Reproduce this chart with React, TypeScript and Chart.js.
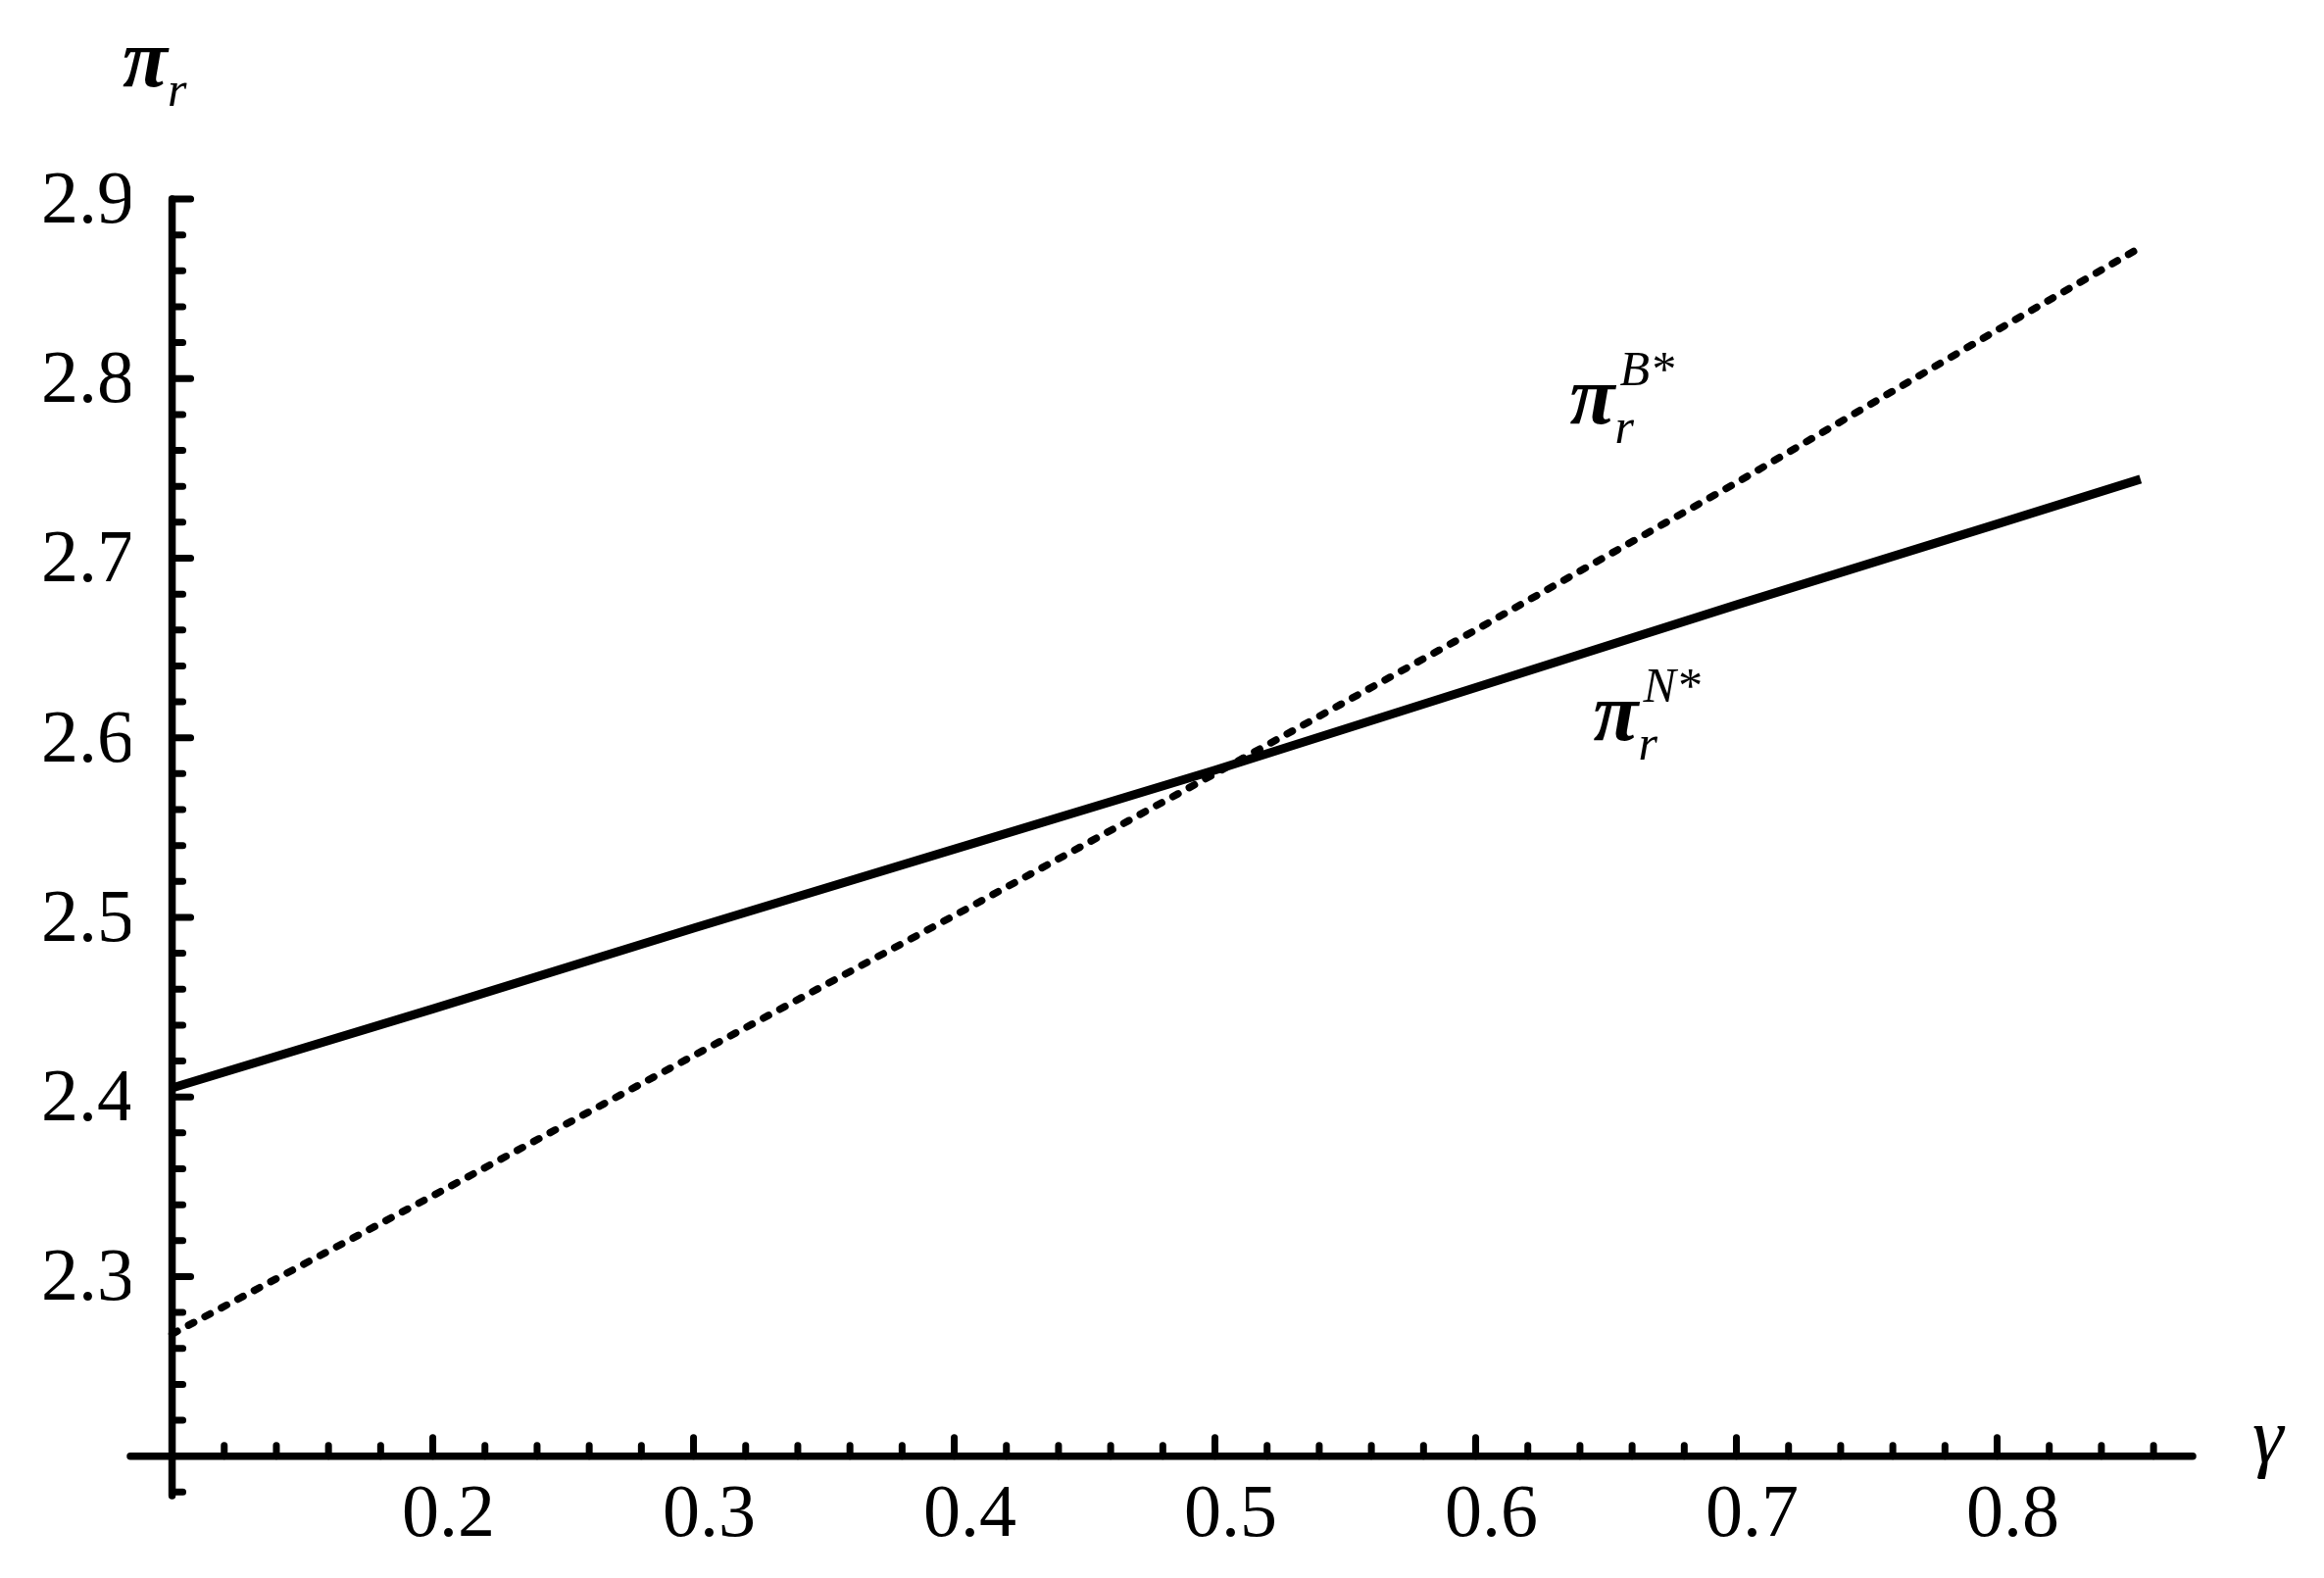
import { useEffect, useRef } from "react";
import { Chart, registerables } from "chart.js";

Chart.register(...registerables);

// gamma values sampled along the curves
const gammaValues = [0.1, 0.2, 0.3, 0.4, 0.5, 0.6, 0.7, 0.8, 0.855];
// pi_r^{N*} (solid)
const profitN = [2.405, 2.449, 2.494, 2.538, 2.582, 2.628, 2.674, 2.719, 2.744];
// pi_r^{B*} (dotted)
const profitB = [2.268, 2.345, 2.423, 2.501, 2.58, 2.66, 2.742, 2.827, 2.873];

const xTickLabels = ["0.2", "0.3", "0.4", "0.5", "0.6", "0.7", "0.8"];
const yTickLabels = ["2.3", "2.4", "2.5", "2.6", "2.7", "2.8", "2.9"];

const SERIF = '"Liberation Serif", "Times New Roman", serif';

function drawPiLabel(
  ctx: CanvasRenderingContext2D,
  left: number,
  baseline: number,
  sup: string | null
) {
  ctx.fillStyle = "#000";
  ctx.textAlign = "left";
  ctx.textBaseline = "alphabetic";
  ctx.font = `italic bold 84px ${SERIF}`;
  ctx.fillText("π", left, baseline);
  ctx.font = `italic 50px ${SERIF}`;
  ctx.fillText("r", left + 46, baseline + 20);
  if (sup) {
    ctx.fillText(sup, left + 51, baseline - 39);
  }
}

const axesPlugin = {
  id: "mathAxes",
  beforeDatasetsDraw(chart: any) {
    const ctx: CanvasRenderingContext2D = chart.ctx;
    const xs = chart.scales.x;
    const ys = chart.scales.y;
    const axisX = xs.getPixelForValue(0.1);
    const axisY = ys.getPixelForValue(2.2);
    ctx.save();
    ctx.strokeStyle = "#000";
    ctx.lineCap = "round";
    // axis lines
    ctx.lineWidth = 7.5;
    ctx.beginPath();
    ctx.moveTo(xs.getPixelForValue(xs.min), axisY);
    ctx.lineTo(xs.getPixelForValue(xs.max), axisY);
    ctx.moveTo(axisX, ys.getPixelForValue(ys.max));
    ctx.lineTo(axisX, ys.getPixelForValue(ys.min));
    ctx.stroke();
    // tick marks (inward)
    ctx.lineWidth = 7;
    ctx.beginPath();
    for (let i = 6; i <= 43; i++) {
      const v = i * 0.02;
      const major = i % 5 === 0;
      const px = xs.getPixelForValue(v);
      ctx.moveTo(px, axisY);
      ctx.lineTo(px, axisY - (major ? 19 : 11));
    }
    for (let i = 109; i <= 145; i++) {
      if (i === 110) continue;
      const v = i * 0.02;
      const major = i % 5 === 0;
      const py = ys.getPixelForValue(v);
      ctx.moveTo(axisX, py);
      ctx.lineTo(axisX + (major ? 19 : 11), py);
    }
    ctx.stroke();
    ctx.restore();
  },
  afterDraw(chart: any) {
    const ctx: CanvasRenderingContext2D = chart.ctx;
    const xs = chart.scales.x;
    const ys = chart.scales.y;
    ctx.save();
    // axis titles
    drawPiLabel(ctx, 125, 88, null);
    ctx.font = `italic 80px ${SERIF}`;
    ctx.fillText("γ", xs.getPixelForValue(xs.max) + 61, ys.getPixelForValue(2.2) + 6);
    // curve labels
    drawPiLabel(ctx, xs.getPixelForValue(0.6361), ys.getPixelForValue(2.7751), "B*");
    drawPiLabel(ctx, xs.getPixelForValue(0.6451), ys.getPixelForValue(2.5989), "N*");
    ctx.restore();
  },
};

export default function App() {
  const canvasRef = useRef<HTMLCanvasElement>(null);

  useEffect(() => {
    const canvas = canvasRef.current;
    if (!canvas) return;
    const tickFont = { family: SERIF, size: 76, lineHeight: 1.2 };
    const chart = new Chart(canvas, {
      type: "line",
      data: {
        datasets: [
          {
            label: "π_r^{N*}",
            data: gammaValues.map((x, i) => ({ x, y: profitN[i] })),
            borderColor: "#000",
            borderWidth: 9,
            pointRadius: 0,
            borderCapStyle: "butt",
            fill: false,
            tension: 0,
          },
          {
            label: "π_r^{B*}",
            data: gammaValues.map((x, i) => ({ x, y: profitB[i] })),
            borderColor: "#000",
            borderWidth: 7.5,
            borderDash: [6, 13],
            borderCapStyle: "round",
            pointRadius: 0,
            fill: false,
            tension: 0,
          },
        ],
      },
      options: {
        responsive: false,
        animation: false,
        devicePixelRatio: 1,
        layout: { padding: { left: 0, top: 203, right: 134, bottom: 84 } },
        plugins: {
          legend: { display: false },
          tooltip: { enabled: false },
        },
        scales: {
          x: {
            type: "linear",
            min: 0.084,
            max: 0.875,
            position: { y: 2.2 },
            grid: { display: false, drawTicks: false },
            border: { display: false },
            afterBuildTicks: (s: any) => {
              s.ticks = xTickLabels.map((l) => ({ value: parseFloat(l) }));
            },
            ticks: {
              padding: 16,
              labelOffset: 16,
              color: "#000",
              font: tickFont,
              autoSkip: false,
              maxRotation: 0,
              minRotation: 0,
              callback: (v: any) => Number(v).toFixed(1),
            },
          },
          y: {
            type: "linear",
            min: 2.178,
            max: 2.9,
            position: "left",
            grid: { display: false, drawTicks: false },
            border: { display: false },
            afterFit: (s: any) => {
              s.width = 133;
            },
            afterBuildTicks: (s: any) => {
              s.ticks = yTickLabels.map((l) => ({ value: parseFloat(l) }));
            },
            ticks: {
              padding: -4,
              labelOffset: 4,
              color: "#000",
              font: tickFont,
              autoSkip: false,
              callback: (v: any) => Number(v).toFixed(1),
            },
          },
        },
      } as any,
      plugins: [axesPlugin],
    });
    return () => chart.destroy();
  }, []);

  return (
    <div
      style={{
        position: "absolute",
        left: 0,
        top: 0,
        width: 2371,
        height: 1610,
        background: "#fff",
      }}
    >
      <canvas ref={canvasRef} width={2371} height={1610} style={{ display: "block" }} />
    </div>
  );
}
